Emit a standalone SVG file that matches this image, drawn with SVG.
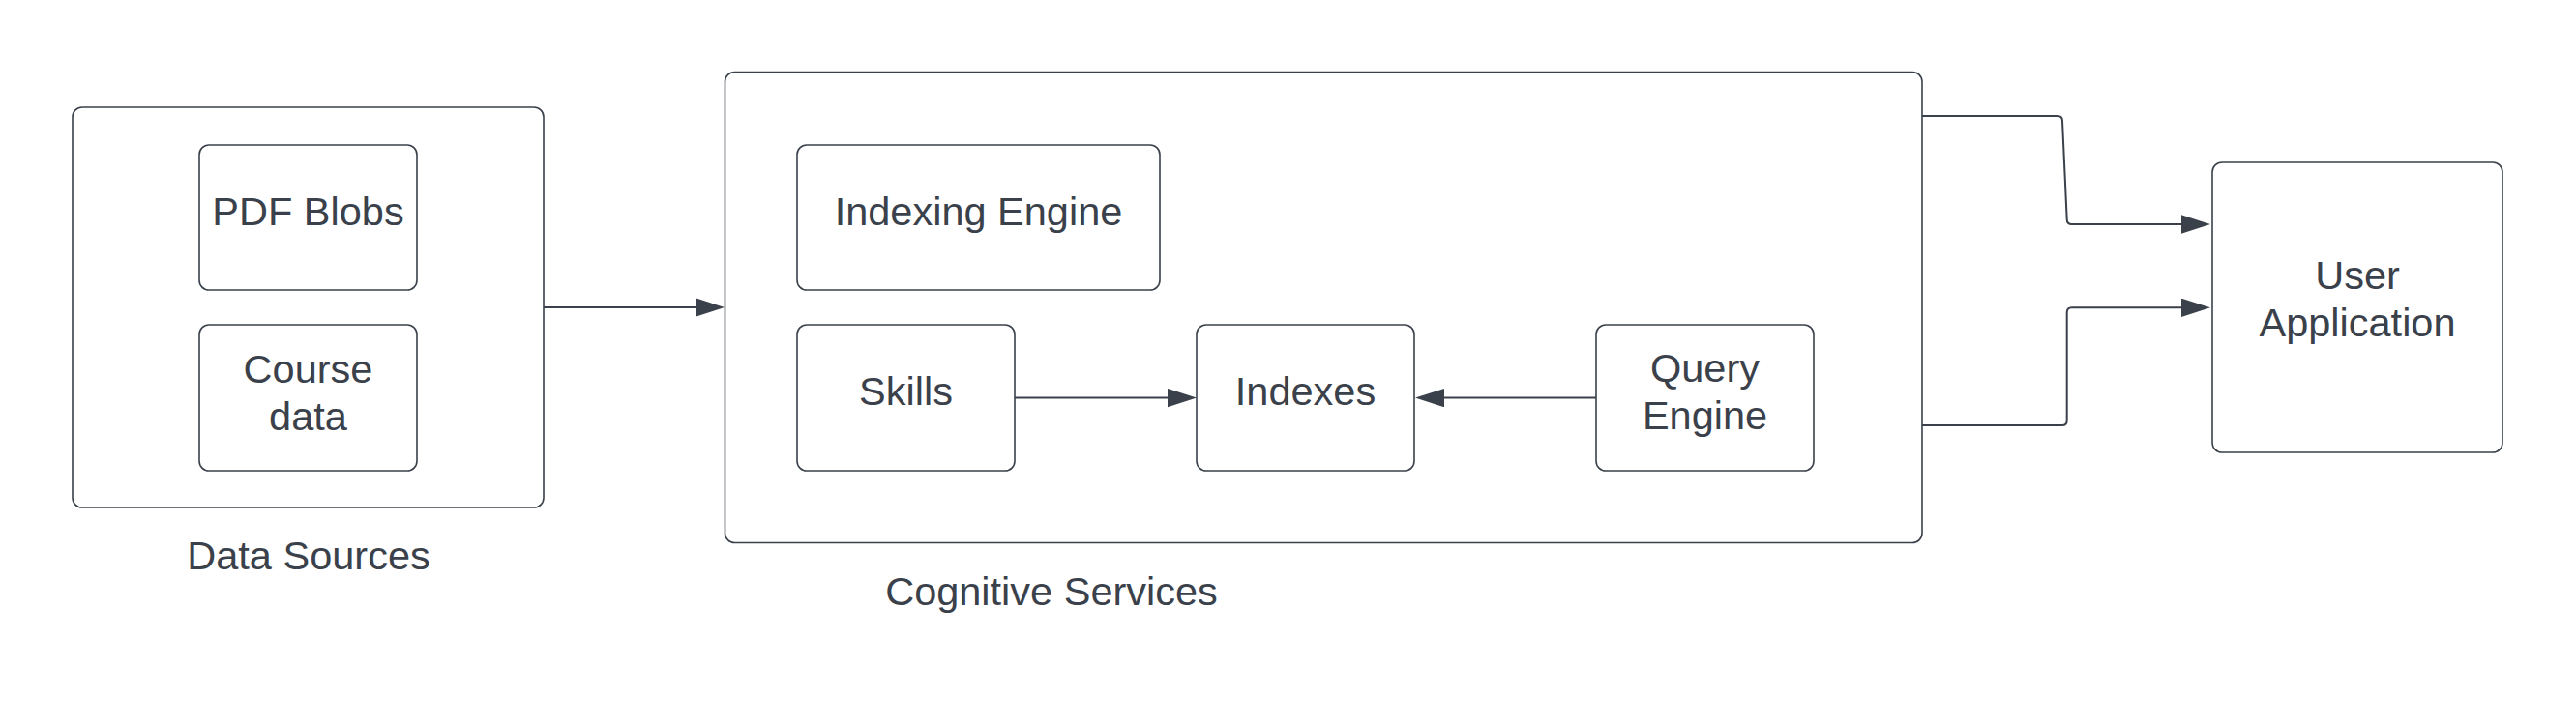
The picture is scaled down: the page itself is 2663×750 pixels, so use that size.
<svg xmlns="http://www.w3.org/2000/svg" width="2663" height="750" viewBox="0 0 2663 750">
  <style>
    .box { fill: #ffffff; stroke: #3a414a; stroke-width: 1.6; }
    .lbl { font-family: "Liberation Sans", Arial, sans-serif; font-size: 41.5px; fill: #3a414a; text-anchor: middle; }
    .conn { fill: none; stroke: #3a414a; stroke-width: 2; marker-end: url(#arrow); }
  </style>
  <defs>
    <marker id="arrow" markerUnits="userSpaceOnUse" markerWidth="31" markerHeight="20" refX="0" refY="9.7" orient="auto">
      <path d="M0,0 L30,9.7 L0,19.4 Z" fill="#3a414a"/>
    </marker>
  </defs>
  <rect width="2663" height="750" fill="#ffffff"/>

  <g id="data-sources">
    <rect class="box" x="75" y="111" width="487" height="414" rx="10"/>
    <text class="lbl" x="319" y="589">Data Sources</text>
  </g>
  <g id="pdf-blobs">
    <rect class="box" x="206" y="150" width="225" height="150" rx="10"/>
    <text class="lbl" x="318.5" y="233">PDF Blobs</text>
  </g>
  <g id="course-data">
    <rect class="box" x="206" y="336" width="225" height="151" rx="10"/>
    <text class="lbl" x="318.5" y="396">Course</text>
    <text class="lbl" x="318.5" y="445">data</text>
  </g>

  <g id="cognitive-services">
    <rect class="box" x="749.5" y="74.5" width="1237.5" height="487" rx="10"/>
    <text class="lbl" x="1087" y="626">Cognitive Services</text>
  </g>
  <g id="indexing-engine">
    <rect class="box" x="824" y="150" width="375" height="150" rx="10"/>
    <text class="lbl" x="1011.5" y="233">Indexing Engine</text>
  </g>
  <g id="skills">
    <rect class="box" x="824" y="336" width="225" height="151" rx="10"/>
    <text class="lbl" x="936.5" y="419">Skills</text>
  </g>
  <g id="indexes">
    <rect class="box" x="1237" y="336" width="225" height="151" rx="10"/>
    <text class="lbl" x="1349.5" y="419">Indexes</text>
  </g>
  <g id="query-engine">
    <rect class="box" x="1650" y="336" width="225" height="151" rx="10"/>
    <text class="lbl" x="1762.5" y="395">Query</text>
    <text class="lbl" x="1762.5" y="444">Engine</text>
  </g>

  <g id="user-application">
    <rect class="box" x="2287" y="168" width="300" height="300" rx="10"/>
    <text class="lbl" x="2437" y="299">User</text>
    <text class="lbl" x="2437" y="348">Application</text>
  </g>

  <g id="connectors">
    <path class="conn" d="M562,318 H719"/>
    <path class="conn" d="M1049,411.6 H1207"/>
    <path class="conn" d="M1650,411.6 H1493"/>
    <path class="conn" d="M1987,120 H2127 Q2132,120 2132,125 L2136.7,227 Q2136.7,232 2141.7,232 H2255"/>
    <path class="conn" d="M1987,440 H2131.7 Q2136.7,440 2136.7,435 V323.3 Q2136.7,318.3 2141.7,318.3 H2255"/>
  </g>
</svg>
